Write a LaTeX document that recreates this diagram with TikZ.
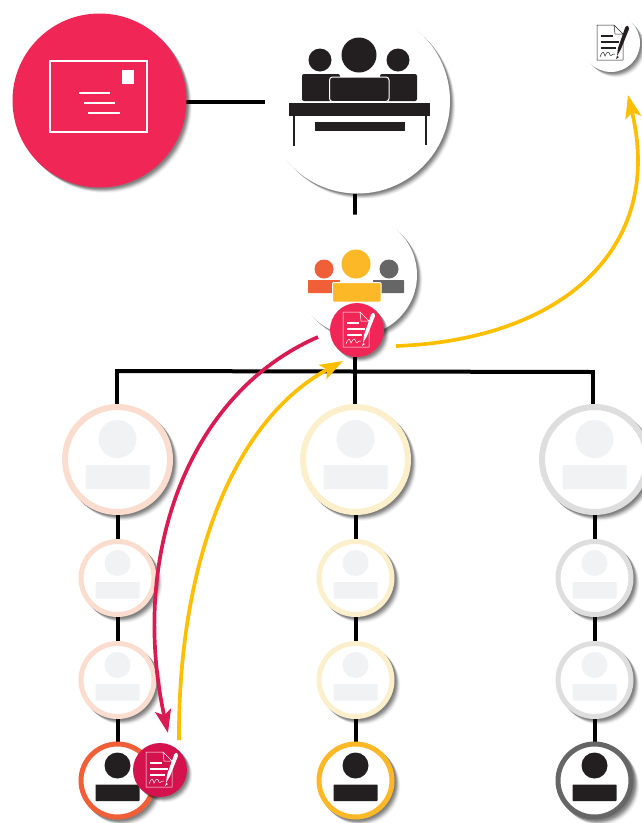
\documentclass[tikz,border=0pt]{standalone}
\usetikzlibrary{shadows,backgrounds,arrows.meta}
\definecolor{pinkred}{HTML}{F02657}
\definecolor{deepred}{HTML}{D3124E}
\definecolor{curvered}{HTML}{D81B52}
\definecolor{amber}{HTML}{FFBF00}
\definecolor{ink}{HTML}{231F20}
\definecolor{ghost}{HTML}{F1F2F4}
\definecolor{orangeA}{HTML}{F05F38}
\definecolor{orangeB}{HTML}{FBDDCF}
\definecolor{yellowA}{HTML}{FDB827}
\definecolor{yellowB}{HTML}{FCEFCB}
\definecolor{grayA}{HTML}{666666}
\definecolor{grayB}{HTML}{DEDEDE}
\tikzset{
  softshadow/.style={
    general shadow={shadow scale=#1,shadow xshift=5.6pt,shadow yshift=-5.6pt,fill=black,opacity=.025},
    general shadow={shadow scale=#1,shadow xshift=5pt,shadow yshift=-5pt,fill=black,opacity=.04},
    general shadow={shadow scale=#1,shadow xshift=4.4pt,shadow yshift=-4.4pt,fill=black,opacity=.06},
    general shadow={shadow scale=#1,shadow xshift=3.8pt,shadow yshift=-3.8pt,fill=black,opacity=.08},
    general shadow={shadow scale=#1,shadow xshift=3.2pt,shadow yshift=-3.2pt,fill=black,opacity=.10},
    general shadow={shadow scale=#1,shadow xshift=2.6pt,shadow yshift=-2.6pt,fill=black,opacity=.11},
    general shadow={shadow scale=#1,shadow xshift=2pt,shadow yshift=-2pt,fill=black,opacity=.12},
    general shadow={shadow scale=#1,shadow xshift=1.2pt,shadow yshift=-1.2pt,fill=black,opacity=.12}},
  disc/.style={circle,inner sep=0pt,outer sep=0pt,softshadow=#1},
  disc/.default=1,
  whitedisc/.style={disc,fill=white},
  bigperson/.style={disc=1.057,fill=white,draw=#1,line width=6pt,minimum size=105pt},
  smallperson/.style={disc=1.068,fill=white,draw=#1,line width=5pt,minimum size=73pt},
  wire/.style={draw=black,line width=4pt},
  curve/.style={line width=3.7pt},
  bigtip/.style={-{Stealth[length=23pt,width=16pt,inset=5pt]}},
}
\newcommand{\bigicon}[1]{%
  \fill[ghost] (#1)+(0,-20.5) circle (19);
  \fill[ghost,rounded corners=1pt] (#1)+(-32,5.5) rectangle +(32,29.5);}
\newcommand{\smallicon}[2]{%
  \fill[#2] (#1)+(0,-15) circle (13);
  \fill[#2,rounded corners=.7pt] (#1)+(-22,4) rectangle +(22,20.5);}
\newcommand{\signicon}[2]{%
  \begin{scope}[shift={(#1)}]
    \draw[#2,line width=.5pt,line join=round] (12,-9) -- (12,17) -- (-14,17) -- (-14,-18) -- (3,-18) -- (12,-9) -- (4,-9) -- (3,-18);
    \fill[#2] (-10,-8) rectangle (2,-6);
    \fill[#2] (-10,-2) rectangle (8,0);
    \fill[#2] (-10,4) rectangle (5,6);
    \draw[#2,line width=.5pt] (-11,14) .. controls (-8,6) and (-7,10) .. (-6,13) .. controls (-4,8) and (-2,8) .. (-1,12) .. controls (0,14) and (2,10) .. (4,11);
    \fill[#2] (6,13) -- (7,5) -- (14,-15) .. controls (15,-18) and (18,-18) .. (18,-14) -- (10,6) -- cycle;
    \fill[#2] (6,13) -- (5,16) -- (8,14) -- cycle;
  \end{scope}}
\begin{document}
\begin{tikzpicture}[x=1pt,y=-1pt]
\useasboundingbox (0,0) rectangle (641,823);
% top row
\node[disc,fill=pinkred,minimum size=174pt] (mail) at (99.5,100.5) {};
\node[whitedisc,minimum size=185pt] (board) at (357.5,101) {};
\node[whitedisc,minimum size=58pt] (doc) at (611,43) {};
\node[whitedisc,minimum size=121pt] (team) at (356.5,275) {};
\node[disc,fill=pinkred,minimum size=54pt] (teamsign) at (357,330) {};
% bus
\coordinate (busL) at (117,371);
\coordinate (busM) at (355,371.5);
\coordinate (busR) at (593,372);
% columns
\foreach \n/\x/\cb/\ca in {a/117.5/orangeB/orangeA,b/355.5/yellowB/yellowA,c/594.5/grayB/grayA}{
  \node[bigperson=\cb] (\n1) at (\x,459.5) {};
  \node[smallperson=\cb] (\n2) at (\x,578) {};
  \node[smallperson=\cb] (\n3) at (\x,680) {};
  \node[smallperson=\ca] (\n4) at (\x,780.5) {};
  \bigicon{\n1}
  \smallicon{\n2}{ghost}
  \smallicon{\n3}{ghost}
  \smallicon{\n4}{ink}
}
\node[disc,fill=deepred,minimum size=54pt] (leafsign) at (160,770) {};
% connectors
\begin{scope}[on background layer]
  \draw[wire] (mail.center |- 0,102) -- (board.center |- 0,102);
  \draw[wire] (board.south -| busM) -- (team.north -| busM);
  \draw[wire] (teamsign.south -| busM) -- (busM);
  \draw[wire] (busL) -- (busR);
  \draw[wire] ([yshift=2pt]busL) -- (busL |- a1.north);
  \draw[wire] (busM) -- (busM |- b1.north);
  \draw[wire] ([yshift=2pt]busR) -- (busR |- c1.north);
  \foreach \n in {a,b,c}{
    \draw[wire] (\n1) -- (\n2);
    \draw[wire] (\n2) -- (\n3);
    \draw[wire] (\n3) -- (\n4);
  }
\end{scope}
% envelope
\draw[white,line width=2pt] (50,61) rectangle (146.5,132);
\fill[white] (122,70) rectangle (134,84);
\fill[white] (79,91.5) rectangle (110,93.5);
\fill[white] (84,101.5) rectangle (115,103.5);
\fill[white] (88,111.5) rectangle (120,113.5);
% board icon
\fill[ink] (359,55) circle (17.5);
\fill[ink] (320,60) circle (11.5);
\fill[ink] (398,60) circle (11.5);
\fill[ink,rounded corners=2pt] (302,74) rectangle (340,101);
\fill[ink,rounded corners=2pt] (380,74) rectangle (417,101);
\draw[white,fill=ink,line width=1pt,rounded corners=3pt] (329.5,77) rectangle (389,101.5);
\fill[ink] (289,103) rectangle (430,116);
\fill[ink] (292.5,116) rectangle (295,146);
\fill[ink] (424.5,116) rectangle (427,145);
\fill[ink] (315,122) rectangle (405,131);
% team icon
\fill[orangeA] (324,269) circle (9.5);
\fill[grayA] (389,269) circle (9.5);
\fill[orangeA,rounded corners=.7pt] (308,280) rectangle (340,293);
\fill[grayA,rounded corners=.7pt] (373,280) rectangle (404,293);
\fill[yellowA] (356,264) circle (14.5);
\draw[white,fill=yellowA,line width=1pt,rounded corners=1pt] (332.5,282.5) rectangle (381,302);
% signature icons
\signicon{teamsign}{white}
\signicon{leafsign}{white}
\signicon{doc}{ink}
% curved arrows
\coordinate (c1s) at (396,346);
\coordinate (c1e) at (628,95);
\coordinate (c2s) at (179,740);
\coordinate (c2e) at (343,361);
\coordinate (c3s) at (318,337);
\coordinate (c3e) at (168,733);
\draw[curve,amber,bigtip] (c1s) .. controls (560,340) and (665,250) .. (c1e);
\draw[curve,amber,bigtip] (c2s) .. controls (178,580) and (225,425) .. (c2e);
\draw[curve,curvered,bigtip] (c3s) .. controls (185,395) and (130,560) .. (c3e);
\end{tikzpicture}
\end{document}
